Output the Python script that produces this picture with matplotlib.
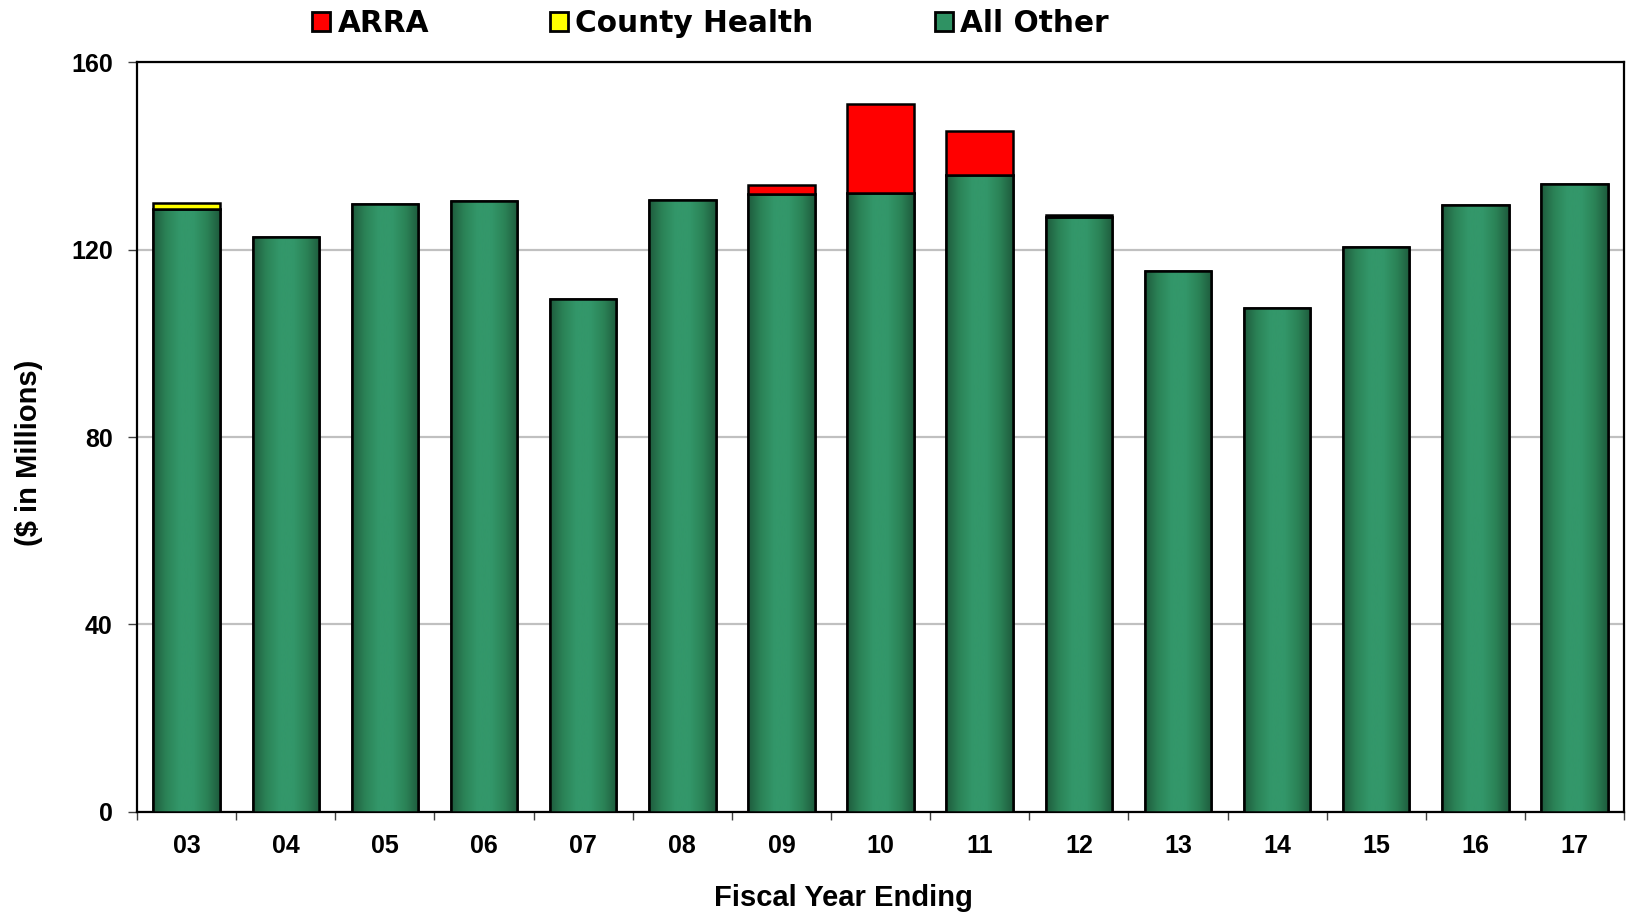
import numpy as np
import matplotlib
matplotlib.use('Agg')
import matplotlib.pyplot as plt
from matplotlib.colors import LinearSegmentedColormap
from matplotlib.patches import Patch

years = ['03', '04', '05', '06', '07', '08', '09', '10', '11', '12', '13', '14', '15', '16', '17']
all_other = [128.7, 122.7, 129.8, 130.5, 109.5, 130.7, 131.9, 132.1, 136.0, 126.9, 115.5, 107.5, 120.6, 129.6, 134.1]
county_health = [1.4, 0, 0, 0, 0, 0, 0, 0, 0, 0, 0, 0, 0, 0, 0]
arra = [0, 0, 0, 0, 0, 0, 1.9, 19.0, 9.3, 0.5, 0, 0, 0, 0, 0]

green = '#2f9263'
green_cmap = LinearSegmentedColormap.from_list(
    'bar', ['#1e5b3d', '#2b8357', '#33976a', '#33976a', '#2b8357', '#1e5b3d'])

plt.rcParams['font.family'] = 'Liberation Sans'
plt.rcParams['font.weight'] = 'bold'

fig = plt.figure(figsize=(16.26, 9.15), dpi=100)
ax = fig.add_axes([0.0843, 0.1129, 0.9145, 0.8188])

x = np.arange(len(years))
w = 0.67
lw = 1.8

bars = ax.bar(x, all_other, w, color=green, edgecolor='black', linewidth=lw, zorder=3)
# horizontal shading inside each green bar
grad = np.linspace(0, 1, 256).reshape(1, -1)
for b in bars:
    im = ax.imshow(grad, cmap=green_cmap, aspect='auto', zorder=3.5,
                   extent=[b.get_x(), b.get_x() + b.get_width(), 0, b.get_height()])
    im.set_clip_path(b)
# outline again on top of the shading
ax.bar(x, all_other, w, color='none', edgecolor='black', linewidth=lw, zorder=4)

bottom2 = np.array(all_other)
ch = np.array(county_health)
ax.bar(x[ch > 0], ch[ch > 0], w, bottom=bottom2[ch > 0], color='#ffff00',
       edgecolor='black', linewidth=lw, zorder=4)
bottom3 = bottom2 + ch
ar = np.array(arra)
ax.bar(x[ar > 0], ar[ar > 0], w, bottom=bottom3[ar > 0], color='#ff0000',
       edgecolor='black', linewidth=lw, zorder=4)

ax.set_xlim(-0.5, len(years) - 0.5)
ax.set_ylim(0, 160)
ax.set_yticks([0, 40, 80, 120, 160])
ax.yaxis.grid(True, color='#c0c0c0', linewidth=1.6, zorder=0)
ax.set_axisbelow(True)

ax.set_xticks(x)
ax.set_xticklabels(years)
ax.set_xticks(np.arange(len(years) + 1) - 0.5, minor=True)
ax.tick_params(axis='x', which='major', length=0, pad=16, labelsize=18)
ax.tick_params(axis='x', which='minor', length=6, width=1, color='#404040', direction='out')
ax.tick_params(axis='y', length=6.5, width=1, pad=11, labelsize=18, color='#404040')
for lab in ax.get_xticklabels() + ax.get_yticklabels():
    lab.set_fontweight('bold')

for s in ax.spines.values():
    s.set_linewidth(1.6)
    s.set_color('black')

fig.text(0.519, 0.0186, 'Fiscal Year Ending', ha='center', va='center', fontsize=21, fontweight='bold')
fig.text(0.0178, 0.505, '($ in Millions)', ha='center', va='center', rotation=90,
         fontsize=21, fontweight='bold')

handles = [Patch(facecolor='#ff0000', edgecolor='black', linewidth=2),
           Patch(facecolor='#ffff00', edgecolor='black', linewidth=2),
           Patch(facecolor=green, edgecolor='black', linewidth=2)]
fig.legend(handles, ['ARRA', 'County Health', 'All Other'], loc='center',
           bbox_to_anchor=(0.437, 0.974), ncol=3, frameon=False,
           prop={'family': 'DejaVu Sans', 'size': 21.3, 'weight': 'bold'},
           handlelength=0.6, handleheight=0.6,
           handletextpad=0.25, columnspacing=4.1)

fig.savefig('out.png', dpi=100)
